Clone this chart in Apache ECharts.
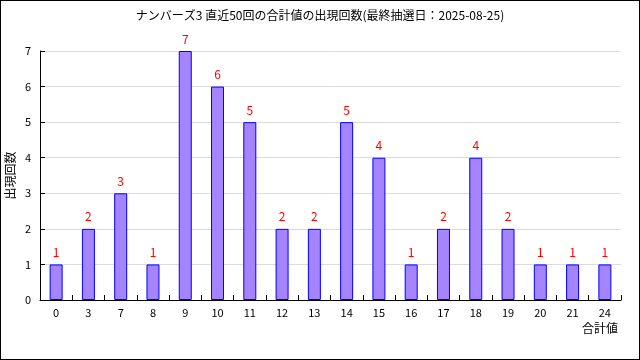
<!DOCTYPE html>
<html><head><meta charset="utf-8">
<script src="https://cdn.jsdelivr.net/npm/echarts@6/dist/echarts.min.js"></script>
<style>html,body{margin:0;padding:0;background:#fff}#c{width:640px;height:360px;box-sizing:border-box;border:1px solid #000}</style>
</head><body><div id="c"></div>
<script>
const titleText = 'ナンバーズ3 直近50回の合計値の出現回数(最終抽選日：2025-08-25)';
const categories = ['0','3','7','8','9','10','11','12','13','14','15','16','17','18','19','20','21','24'];
const counts = [1,2,3,1,7,6,5,2,2,5,4,1,2,4,2,1,1,1];
const yTicks = [0,1,2,3,4,5,6,7];
const font = '"Noto Sans CJK JP", "DejaVu Sans", sans-serif';
const chart = echarts.init(document.getElementById('c'), null, {renderer:'canvas'});
chart.setOption({
  animation:false,
  textStyle:{fontFamily:font},
  title:{text:titleText,left:'center',top:3,textStyle:{fontSize:12,fontWeight:'normal',color:'#000',fontFamily:font}},
  grid:{left:39,right:18,top:50,bottom:59,containLabel:false,outerBoundsMode:'none'},
  xAxis:{type:'category',data:categories,
    name:'合計値',nameLocation:'end',nameGap:0,nameMoveOverlap:false,
    nameTextStyle:{fontSize:12,color:'#000',align:'right',verticalAlign:'top',padding:[22,3,0,0],fontFamily:font},
    axisLine:{lineStyle:{color:'#000',width:1}},
    axisTick:{show:true,inside:true,length:5,lineStyle:{color:'#000'}},
    axisLabel:{color:'#000',fontSize:11,margin:7,fontFamily:font},
    splitLine:{show:false}},
  yAxis:{type:'value',min:yTicks[0],max:yTicks[yTicks.length-1],interval:1,
    name:'出現回数',nameLocation:'middle',nameRotate:90,nameGap:24,nameMoveOverlap:false,
    nameTextStyle:{fontSize:12,color:'#000',fontFamily:font},
    axisLine:{show:true,lineStyle:{color:'#000',width:1}},
    axisTick:{show:true,inside:true,length:5,lineStyle:{color:'#000'}},
    axisLabel:{color:'#000',fontSize:11,margin:9,fontFamily:font},
    splitLine:{show:true,lineStyle:{color:'#dcdcdc',width:1}}},
  series:[{type:'bar',data:counts,barWidth:13,
    itemStyle:{color:'#a584ff',borderColor:'#0000ff',borderWidth:1},
    label:{show:true,position:'top',distance:6,color:'#ff0000',fontSize:12,fontFamily:font}}]
});
</script></body></html>
